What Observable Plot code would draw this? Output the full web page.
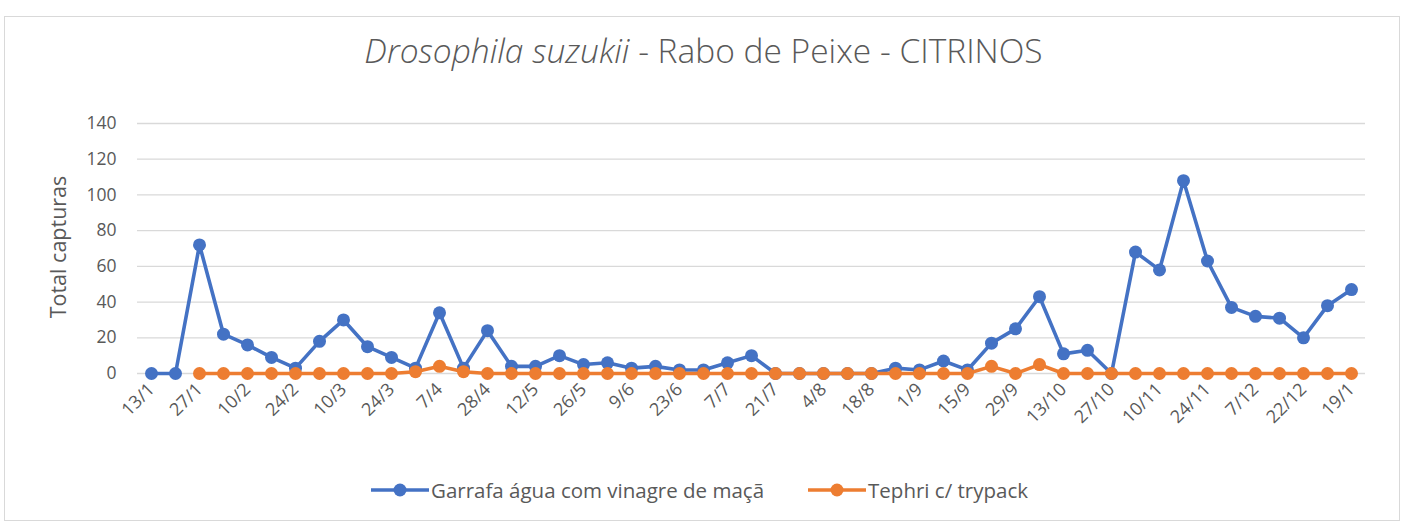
<!DOCTYPE html>
<html>
<head>
<meta charset="utf-8">
<script src="https://cdn.jsdelivr.net/npm/d3@7"></script>
<script src="https://cdn.jsdelivr.net/npm/@observablehq/plot@0.6"></script>
<style>
  html, body { margin: 0; padding: 0; background: #fff; }
  body { width: 1407px; height: 524px; position: relative; overflow: hidden; font-family: "Open Sans", sans-serif; color: #595959; }
  #frame { position: absolute; left: 4px; top: 16px; width: 1396px; height: 505px; border: 1px solid #d9d9d9; box-sizing: border-box; pointer-events: none; }
  #title { position: absolute; left: 0; top: 27px; width: 1407px; height: 46px; line-height: 46px; text-align: center; font-size: 33.5px; font-weight: 300; color: #595959; }
  #chart { position: absolute; left: 0; top: 100px; }
  #ylabel { position: absolute; left: 57px; top: 247px; transform: translate(-50%, -50%) rotate(-90deg); font-size: 21.5px; white-space: nowrap; color: #595959; }
  #legend { position: absolute; left: -4px; top: 470px; width: 1407px; height: 40px; display: flex; justify-content: center; align-items: center; font-size: 20.5px; color: #595959; gap: 44px; }
  .item { display: flex; align-items: center; gap: 2px; }
</style>
</head>
<body>
<div id="frame"></div>
<div id="title"><i>Drosophila suzukii</i> - Rabo de Peixe - CITRINOS</div>
<div id="ylabel">Total capturas</div>
<div id="chart"></div>
<div id="legend"></div>
<script>
// Sampling dates (every other one is labelled on the axis)
const dates = ["13/1","20/1","27/1","3/2","10/2","17/2","24/2","3/3","10/3","17/3",
  "24/3","31/3","7/4","20/4","28/4","5/5","12/5","19/5","26/5","2/6",
  "9/6","16/6","23/6","30/6","7/7","14/7","21/7","28/7","4/8","11/8",
  "18/8","25/8","1/9","8/9","15/9","22/9","29/9","6/10","13/10","20/10",
  "27/10","3/11","10/11","17/11","24/11","1/12","7/12","15/12","22/12","5/1","19/1"];
const tickLabels = ["13/1","27/1","10/2","24/2","10/3","24/3","7/4","28/4","12/5","26/5",
  "9/6","23/6","7/7","21/7","4/8","18/8","1/9","15/9","29/9","13/10",
  "27/10","10/11","24/11","7/12","22/12","19/1"];
const garrafa = [0,0,72,22,16,9,3,18,30,15,
  9,3,34,3,24,4,4,10,5,6,
  3,4,2,2,6,10,0,0,0,0,
  0,3,2,7,2,17,25,43,11,13,
  0,68,58,108,63,37,32,31,20,38,47];
const tephri = [null,null,0,0,0,0,0,0,0,0,
  0,1,4,1,0,0,0,0,0,0,
  0,0,0,0,0,0,0,0,0,0,
  0,0,0,0,0,4,0,5,0,0,
  0,0,0,0,0,0,0,0,0,0,0];
const yTicks = [0,20,40,60,80,100,120,140];
const seriesNames = ["Garrafa água com vinagre de maçã", "Tephri c/ trypack"];
const seriesColors = ["#4472C4", "#ED7D31"];

const rows = dates.map((d, i) => ({date: d, garrafa: garrafa[i], tephri: tephri[i]}));

const chart = Plot.plot({
  width: 1407,
  height: 360,
  marginLeft: 137,
  marginRight: 42,
  marginTop: 23,
  marginBottom: 87,
  style: {fontFamily: '"Open Sans", sans-serif', fontSize: "17.5px", color: "#595959", background: "transparent", overflow: "visible"},
  x: {type: "point", domain: dates, padding: 0.5},
  y: {domain: [0, 140]},
  marks: [
    Plot.gridY(yTicks, {stroke: "#d9d9d9", strokeOpacity: 1, strokeWidth: 1.3}),
    Plot.axisY(yTicks, {tickSize: 0, tickPadding: 21, label: null, fontSize: 17.5, fill: "#595959"}),
    Plot.axisX(tickLabels, {tickSize: 0, tickPadding: 13, tickRotate: -45, label: null, fontSize: 18, fill: "#595959"}),
    Plot.line(rows, {x: "date", y: "garrafa", stroke: seriesColors[0], strokeWidth: 3.6, curve: "linear"}),
    Plot.dot(rows, {x: "date", y: "garrafa", r: 6.5, fill: seriesColors[0], stroke: "none"}),
    Plot.line(rows.filter(d => d.tephri != null), {x: "date", y: "tephri", stroke: seriesColors[1], strokeWidth: 3.6}),
    Plot.dot(rows.filter(d => d.tephri != null), {x: "date", y: "tephri", r: 6.5, fill: seriesColors[1], stroke: "none"})
  ]
});
document.getElementById("chart").appendChild(chart);

const legend = d3.select("#legend");
seriesNames.forEach((name, k) => {
  const item = legend.append("div").attr("class", "item");
  const s = item.append("svg").attr("width", 58).attr("height", 16);
  s.append("line").attr("x1", 0).attr("x2", 58).attr("y1", 8).attr("y2", 8)
    .attr("stroke", seriesColors[k]).attr("stroke-width", 3.6);
  s.append("circle").attr("cx", 29).attr("cy", 8).attr("r", 6.5).attr("fill", seriesColors[k]);
  item.append("span").text(name);
});
</script>
</body>
</html>
